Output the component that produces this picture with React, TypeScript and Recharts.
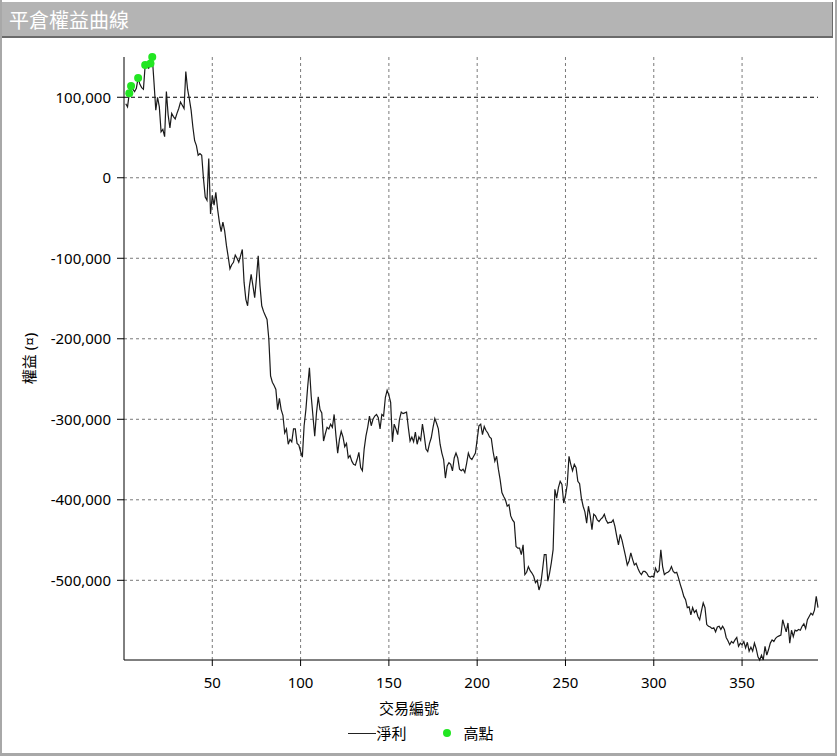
import { ComposedChart, Line, XAxis, YAxis, ReferenceLine, Legend } from 'recharts'

// 淨利 per trade, in thousands
const equityK = [
  92, 88, 105, 114, 110, 107, 111, 124, 116, 112,
  110, 140, 138, 136, 142, 150, 118, 84, 100, 88,
  57, 60, 51, 107, 78, 62, 80, 76, 73, 80,
  86, 94, 90, 86, 132, 110, 98, 84, 63, 46,
  40, 28, 30, 28, -1, -24, -28, 24, -45, -22,
  -34, -18, -39, -55, -67, -55, -66, -84, -98, -113,
  -108, -105, -96, -100, -105, -97, -89, -130, -151, -159,
  -135, -120, -134, -149, -125, -97, -134, -159, -166, -171,
  -176, -200, -246, -254, -258, -263, -288, -274, -288, -295,
  -317, -312, -331, -325, -328, -312, -312, -330, -332, -340,
  -347, -308, -288, -260, -236, -271, -296, -321, -292, -272,
  -288, -292, -327, -318, -310, -312, -306, -310, -294, -320,
  -342, -325, -315, -322, -334, -330, -348, -345, -352, -356,
  -357, -350, -341, -360, -364, -337, -321, -310, -296, -308,
  -300, -296, -294, -298, -312, -294, -296, -273, -264, -270,
  -279, -328, -306, -312, -319, -300, -291, -293, -292, -291,
  -310, -327, -322, -328, -316, -331, -322, -326, -306, -320,
  -337, -340, -330, -323, -310, -299, -305, -312, -331, -342,
  -350, -373, -358, -354, -356, -364, -348, -342, -348, -362,
  -364, -362, -366, -355, -342, -348, -350, -346, -342, -325,
  -308, -306, -319, -309, -314, -317, -322, -324, -340, -352,
  -346, -362, -375, -391, -396, -400, -408, -406, -420, -425,
  -428, -458, -460, -460, -468, -456, -493, -490, -483, -488,
  -491, -495, -503, -500, -512, -505, -487, -468, -468, -501,
  -491, -478, -462, -387, -398, -385, -377, -381, -404, -395,
  -381, -346, -356, -364, -356, -360, -377, -380, -398, -408,
  -415, -429, -408, -420, -437, -418, -420, -425, -427, -424,
  -422, -418, -425, -429, -428, -428, -425, -433, -445, -456,
  -443, -450, -460, -470, -481, -476, -466, -474, -481, -479,
  -485, -490, -493, -489, -489, -491, -495, -496, -495, -496,
  -485, -490, -488, -462, -483, -493, -491, -490, -488, -483,
  -489, -491, -490, -497, -505, -512, -520, -524, -534, -533,
  -543, -534, -540, -537, -545, -549, -538, -528, -534, -555,
  -557, -558, -560, -559, -564, -558, -557, -561, -557, -561,
  -571, -575, -580, -576, -578, -574, -571, -582, -578, -580,
  -576, -584, -577, -588, -583, -588, -578, -585, -595, -599,
  -593, -599, -582, -593, -586, -578, -574, -576, -572, -570,
  -569, -568, -549, -557, -564, -553, -578, -562, -570, -562,
  -563, -561, -562, -557, -554, -560, -549, -545, -541, -543,
  -537, -520, -534,
]

// trades that set a new equity high (高點)
const highTrades = [3, 4, 8, 12, 15, 16]

const xTicks = [50, 100, 150, 200, 250, 300, 350]
const yTicks = [-500000, -400000, -300000, -200000, -100000, 0, 100000]
const baseLine = 100000

const data = equityK.map((v, i) => ({
  trade: i + 1,
  equity: v * 1000,
  high: highTrades.includes(i + 1) ? v * 1000 : null,
}))

const FONT = "'Noto Sans', 'Noto Sans CJK TC', sans-serif"
const GREEN = '#22e622'
const GRID = '#7a7a7a'

function LegendBox() {
  return (
    <div style={{ height: 56, fontFamily: FONT, color: '#000', textAlign: 'center' }}>
      <div style={{ fontSize: 15, lineHeight: '20px', paddingTop: 8 }}>交易編號</div>
      <div
        style={{
          display: 'flex',
          justifyContent: 'center',
          alignItems: 'center',
          fontSize: 15,
          lineHeight: '20px',
          marginTop: 5,
          paddingLeft: 24,
        }}
      >
        <span style={{ display: 'inline-block', width: 28, borderTop: '1px solid #222' }} />
        <span>淨利</span>
        <span
          style={{
            display: 'inline-block',
            width: 8,
            height: 8,
            borderRadius: 4,
            background: GREEN,
            marginLeft: 36,
            marginRight: 13,
          }}
        />
        <span>高點</span>
      </div>
    </div>
  )
}

export default function App() {
  return (
    <div
      style={{
        position: 'relative',
        width: 837,
        height: 756,
        background: '#fff',
        boxSizing: 'border-box',
        borderLeft: '2px solid #a8a8a8',
        borderBottom: '3px solid #a8a8a8',
        borderRight: '2px solid #a8a8a8',
      }}
    >
      <style>{'body{margin:0}'}</style>
      <div
        style={{
          position: 'absolute',
          left: 0,
          top: 2,
          width: 831,
          height: 36,
          boxSizing: 'border-box',
          background: '#b4b4b4',
          borderBottom: '2px solid #6a6a6a',
          borderRight: '1px solid #6a6a6a',
          color: '#fff',
          fontFamily: "'Noto Sans CJK TC', sans-serif",
          fontSize: 20,
          lineHeight: '36px',
          paddingLeft: 7,
        }}
      >
        平倉權益曲線
      </div>
      <div style={{ position: 'absolute', right: -3, top: 0, width: 1, height: 756, background: '#24406a' }} />
      <div style={{ position: 'absolute', left: -2, top: 40 }}>
        <ComposedChart width={837} height={712} data={data} margin={{ top: 17, right: 19, left: 0, bottom: 6 }}>
          <XAxis
            dataKey="trade"
            type="number"
            domain={[0, 393]}
            ticks={xTicks}
            height={30}
            tickSize={6}
            tickMargin={11}
            axisLine={{ stroke: '#000' }}
            tickLine={{ stroke: '#000' }}
            tick={{ fill: '#000', fontSize: 15, fontFamily: FONT }}
          />
          <YAxis
            type="number"
            domain={['dataMin', 'dataMax']}
            ticks={yTicks}
            width={124}
            tickSize={7}
            tickMargin={6}
            axisLine={{ stroke: '#000' }}
            tickLine={{ stroke: '#000' }}
            tick={{ fill: '#000', fontSize: 15, fontFamily: FONT }}
            tickFormatter={(v) => Number(v).toLocaleString('en-US')}
            label={{
              value: '權益 (¤)',
              angle: -90,
              position: 'center',
              dx: -32,
              style: { fill: '#000', fontSize: 15, fontFamily: FONT },
            }}
          />
          {xTicks.map((t) => (
            <ReferenceLine key={'x' + t} x={t} stroke={GRID} strokeDasharray="3 3" />
          ))}
          {yTicks
            .filter((t) => t !== baseLine)
            .map((t) => (
              <ReferenceLine key={'y' + t} y={t} stroke={GRID} strokeDasharray="3 3" />
            ))}
          <ReferenceLine y={baseLine} stroke="#000" strokeDasharray="4 3" />
          <Legend verticalAlign="bottom" content={() => <LegendBox />} />
          <Line
            type="linear"
            dataKey="equity"
            name="淨利"
            stroke="#1a1a1a"
            strokeWidth={1.2}
            dot={false}
            isAnimationActive={false}
          />
          <Line
            type="linear"
            dataKey="high"
            name="高點"
            stroke="none"
            dot={{ r: 4, fill: GREEN, stroke: GREEN, strokeWidth: 0 }}
            activeDot={false}
            isAnimationActive={false}
          />
        </ComposedChart>
      </div>
    </div>
  )
}
